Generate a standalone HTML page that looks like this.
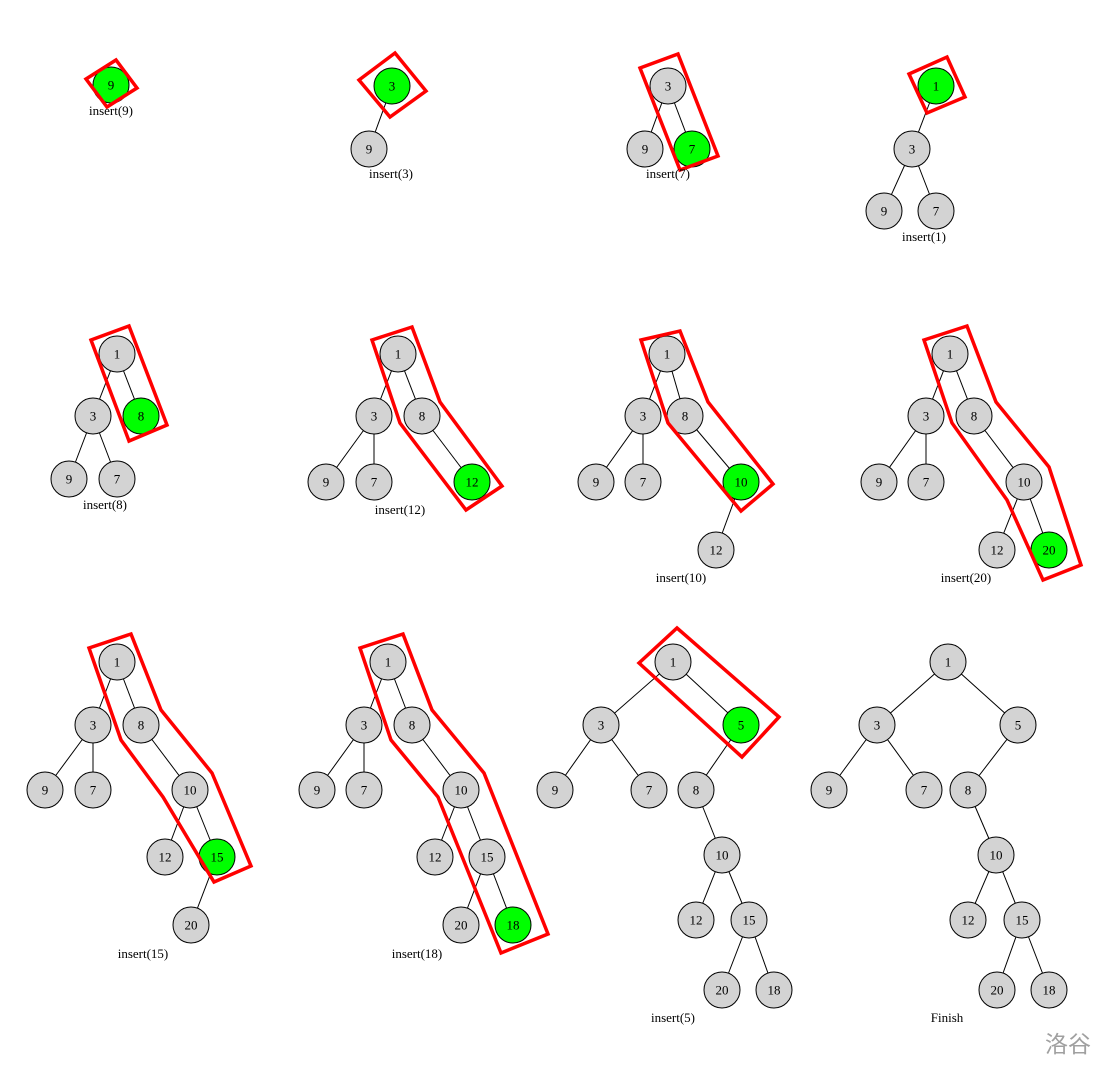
<!DOCTYPE html>
<html><head><meta charset="utf-8">
<style>
html,body{margin:0;padding:0;background:#fff;}
svg{display:block;}
text{font-family:"Liberation Serif",serif;}
</style></head>
<body>
<svg id="s" width="1118" height="1080" viewBox="0 0 1118 1080"></svg>
<script>
// panel nodes: [label, x, y, green(1/0)]
const p1Nodes=[["9",111,85,1]];
const p1Edges=[];
const p1Box=[[86,79],[116,60],[137,88],[107,107]];
const p2Nodes=[["3",392,86,1],["9",369,149,0]];
const p2Edges=[[0,1]];
const p2Box=[[359,80],[395,53],[426,91],[390,117]];
const p3Nodes=[["3",668,86,0],["9",645,149,0],["7",692,149,1]];
const p3Edges=[[0,1],[0,2]];
const p3Box=[[640,68],[678,54],[718,156],[680,170]];
const p4Nodes=[["1",936,86,1],["3",912,149,0],["9",884,211,0],["7",936,211,0]];
const p4Edges=[[0,1],[1,2],[1,3]];
const p4Box=[[909,74],[947,57],[965,97],[927,113]];
const p5Nodes=[["1",117,354,0],["3",93,416,0],["8",141,416,1],["9",69,479,0],["7",117,479,0]];
const p5Edges=[[0,1],[0,2],[1,3],[1,4]];
const p5Box=[[91,340],[129,326],[167,425],[129,441]];
const p6Nodes=[["1",398,354,0],["3",374,416,0],["8",422,416,0],["9",326,482,0],["7",374,482,0],["12",472,482,1]];
const p6Edges=[[0,1],[0,2],[1,3],[1,4],[2,5]];
const p6Box=[[372,340],[412,327],[440,402],[502,486],[466,510],[400,423]];
const p7Nodes=[["1",667,354,0],["3",643,416,0],["8",685,416,0],["9",596,482,0],["7",643,482,0],["10",741,482,1],["12",716,550,0]];
const p7Edges=[[0,1],[0,2],[1,3],[1,4],[2,5],[5,6]];
const p7Box=[[641,340],[680,331],[708,402],[773,484],[741,511],[668,423]];
const p8Nodes=[["1",950,354,0],["3",926,416,0],["8",974,416,0],["9",879,482,0],["7",926,482,0],["10",1024,482,0],["12",997,550,0],["20",1049,550,1]];
const p8Edges=[[0,1],[0,2],[1,3],[1,4],[2,5],[5,6],[5,7]];
const p8Box=[[924,340],[967,326],[996,402],[1049,467],[1081,565],[1043,580],[1007,500],[952,423]];
const p9Nodes=[["1",117,662,0],["3",93,725,0],["8",141,725,0],["9",45,790,0],["7",93,790,0],["10",190,790,0],["12",165,857,0],["15",217,857,1],["20",191,925,0]];
const p9Edges=[[0,1],[0,2],[1,3],[1,4],[2,5],[5,6],[5,7],[7,8]];
const p9Box=[[89,648],[131,634],[161,710],[212,773],[251,866],[214,882],[163,797],[121,740]];
const p10Nodes=[["1",388,662,0],["3",364,725,0],["8",412,725,0],["9",317,790,0],["7",364,790,0],["10",461,790,0],["12",435,857,0],["15",487,857,0],["20",461,925,0],["18",513,925,1]];
const p10Edges=[[0,1],[0,2],[1,3],[1,4],[2,5],[5,6],[5,7],[7,8],[7,9]];
const p10Box=[[360,648],[403,634],[432,710],[484,773],[548,934],[501,953],[438,797],[391,740]];
const p11Nodes=[["1",673,662,0],["3",601,725,0],["5",741,725,1],["9",555,790,0],["7",649,790,0],["8",696,790,0],["10",722,855,0],["12",696,920,0],["15",749,920,0],["20",722,990,0],["18",774,990,0]];
const p11Edges=[[0,1],[0,2],[1,3],[1,4],[2,5],[5,6],[6,7],[6,8],[8,9],[8,10]];
const p11Box=[[639,663],[677,628],[779,717],[742,757]];
const p12Nodes=[["1",948,662,0],["3",877,725,0],["5",1018,725,0],["9",829,790,0],["7",924,790,0],["8",968,790,0],["10",996,855,0],["12",968,920,0],["15",1022,920,0],["20",997,990,0],["18",1049,990,0]];
const p12Edges=p11Edges;
const p12Box=null;
const captions=["insert(9)","insert(3)","insert(7)","insert(1)","insert(8)","insert(12)","insert(10)","insert(20)","insert(15)","insert(18)","insert(5)","Finish"];
const captionPos=[[111,115],[391,178],[668,178],[924,241],[105,509],[400,514],[681,582],[966,582],[143,958],[417,958],[673,1022],[947,1022]];

const panels=[[p1Nodes,p1Edges,p1Box],[p2Nodes,p2Edges,p2Box],[p3Nodes,p3Edges,p3Box],[p4Nodes,p4Edges,p4Box],
[p5Nodes,p5Edges,p5Box],[p6Nodes,p6Edges,p6Box],[p7Nodes,p7Edges,p7Box],[p8Nodes,p8Edges,p8Box],
[p9Nodes,p9Edges,p9Box],[p10Nodes,p10Edges,p10Box],[p11Nodes,p11Edges,p11Box],[p12Nodes,p12Edges,p12Box]];
const NS="http://www.w3.org/2000/svg";
const svg=document.getElementById('s');
function mk(t,a,parent){const e=document.createElementNS(NS,t);for(const k in a)e.setAttribute(k,a[k]);parent.appendChild(e);return e;}
panels.forEach((p,i)=>{
  const g=mk('g',{},svg);
  
  
  const [nodes,edges,box]=p;
  edges.forEach(([a,b])=>{
    const l=mk('line',{x1:nodes[a][1],y1:nodes[a][2],x2:nodes[b][1],y2:nodes[b][2],stroke:'#000','stroke-width':1},g);
    
    
  });
  nodes.forEach(n=>{
    const c=mk('circle',{cx:n[1],cy:n[2],r:18,fill:n[3]?'#00ff00':'#d3d3d3',stroke:'#000','stroke-width':1},g);
    
    
    const t=mk('text',{x:n[1],y:n[2]+4.5,'text-anchor':'middle','font-size':13,fill:'#000'},g);
    t.textContent=n[0];
    
    
  });
  if(box){
    const pg=mk('polygon',{points:box.map(q=>q.join(',')).join(' '),fill:'none',stroke:'#ff0000','stroke-width':3.5,'stroke-linejoin':'miter'},g);
    
    
  }
  const cp=mk('text',{x:captionPos[i][0],y:captionPos[i][1],'text-anchor':'middle','font-size':13,fill:'#000'},g);
  cp.textContent=captions[i];
  
  
});
const w=mk('text',{x:1068,y:1052,'text-anchor':'middle','font-size':23,fill:'#a0a0a0','font-family':'"Liberation Sans","Noto Sans CJK SC",sans-serif'},svg);
w.textContent='洛谷';


</script>
</body></html>
